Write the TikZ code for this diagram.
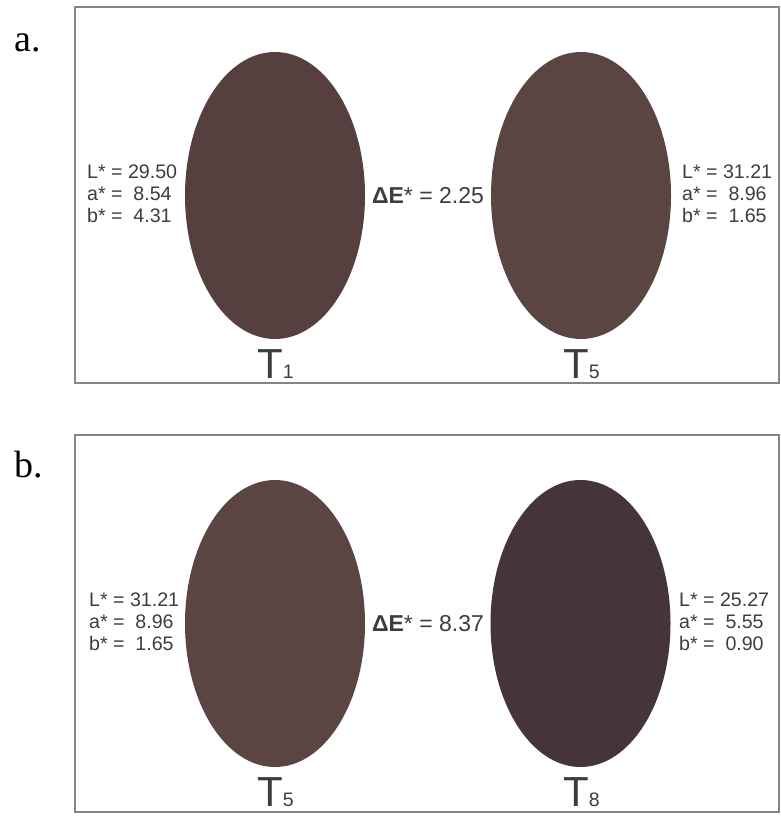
\documentclass[tikz,border=0pt]{standalone}
\usepackage{xcolor}
\usepackage{fontspec}
\setmainfont{Liberation Sans}
\newfontfamily\panelfont{Liberation Serif}
\usetikzlibrary{shapes.geometric}
\definecolor{tonea}{HTML}{553F3F}
\definecolor{toneb}{HTML}{5A4542}
\definecolor{tonec}{HTML}{453538}
\definecolor{labgray}{HTML}{3D3D3D}
\definecolor{framegray}{HTML}{858585}
\begin{document}
\begin{tikzpicture}[x=1pt,y=-1pt,
	frame/.style={draw=framegray, line width=1.3pt},
	swatch/.style={ellipse, minimum width=180pt, minimum height=287pt, inner sep=0pt},
	lab/.style={text=labgray, font=\fontsize{19.6}{22}\selectfont, align=left, anchor=west, inner sep=0pt},
	delta/.style={text=labgray, font=\fontsize{23}{26}\selectfont, inner sep=0pt},
	tname/.style={text=labgray, font=\fontsize{42}{44}\selectfont, anchor=base, inner sep=0pt},
	panel/.style={font=\panelfont\fontsize{38}{40}\selectfont, anchor=base west, inner sep=0pt}]
				\useasboundingbox (0,0) rectangle (781,816);
				
				% panel a
				\draw[frame] (75,7) rectangle (779,383);
				\node[panel] (pa) at (14,52) {a.};
				\node[swatch, fill=tonea] (ta1) at (275,195.5) {};
				\node[swatch, fill=toneb] (ta2) at (581,195.5) {};
				\node[lab] (la1) at (87,193.5) {L* = 29.50\\a* = \ 8.54\\b* = \ 4.31};
				\node[lab] (la2) at (682,193.5) {L* = 31.21\\a* = \ 8.96\\b* = \ 1.65};
				\node[delta] (da) at (428,195.5) {\textbf{ΔE}* = 2.25};
				\node[tname] (na1) at (275.5,378) {T{\fontsize{19.5}{20}\selectfont 1}};
				\node[tname] (na2) at (581.5,378) {T{\fontsize{19.5}{20}\selectfont 5}};
				
				% panel b
				\draw[frame] (75,435) rectangle (779,812);
				\node[panel] (pb) at (14,477) {b.};
				\node[swatch, fill=toneb] (tb1) at (275,623.5) {};
				\node[swatch, fill=tonec] (tb2) at (580.5,623.5) {};
				\node[lab] (lb1) at (89,621.5) {L* = 31.21\\a* = \ 8.96\\b* = \ 1.65};
				\node[lab] (lb2) at (679,621.5) {L* = 25.27\\a* = \ 5.55\\b* = \ 0.90};
				\node[delta] (db) at (428,623.5) {\textbf{ΔE}* = 8.37};
				\node[tname] (nb1) at (275.5,806) {T{\fontsize{19.5}{20}\selectfont 5}};
				\node[tname] (nb2) at (581.5,806) {T{\fontsize{19.5}{20}\selectfont 8}};
			\end{tikzpicture}
\end{document}
